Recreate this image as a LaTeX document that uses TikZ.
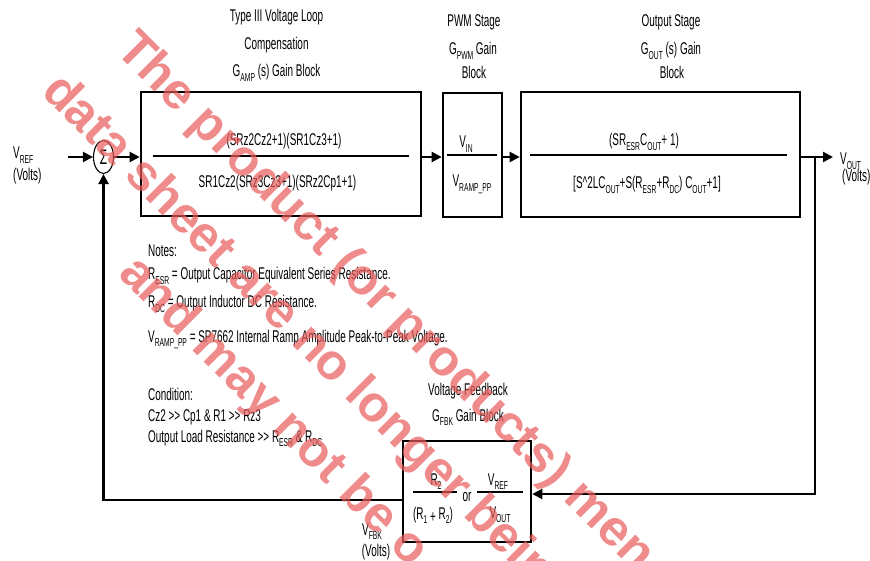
\documentclass[tikz,border=0pt]{standalone}
\usepackage{fontspec}
\setmainfont{Liberation Sans}[FakeStretch=0.585]
\newfontfamily\wmfont{Liberation Sans}
\usetikzlibrary{arrows.meta,shapes.geometric}
\definecolor{wmpink}{RGB}{232,90,90}
\newcommand{\sbx}[1]{\raisebox{-4.5pt}{\fontsize{11.5}{11.5}\selectfont #1}}
\begin{document}
\begin{tikzpicture}[x=1pt,y=-1pt,
  txt/.style={inner sep=0pt, font=\fontsize{17}{20}\selectfont, anchor=base},
  ltxt/.style={txt, anchor=base west},
  blk/.style={draw, line width=2.6pt, inner sep=0pt},
  con/.style={line width=2.2pt},
  arr/.style={con, -{Triangle[length=10pt,width=10pt]}},
  fr/.style={line width=2.2pt},
  wm/.style={inner sep=0pt, anchor=base west, rotate=-45, text=wmpink, text opacity=0.7,
    font=\wmfont\bfseries\fontsize{50.5}{50}\selectfont}]
\useasboundingbox (0,0) rectangle (870,561);
\clip (0,0) rectangle (870,561);
% blocks
\node[blk, minimum width=280pt, minimum height=124pt] (box1) at (281,154) {};
\node[blk, minimum width=59pt, minimum height=124pt] (pwm) at (472.5,155) {};
\node[blk, minimum width=279pt, minimum height=125pt] (out) at (660.5,154.5) {};
\node[blk, minimum width=128pt, minimum height=101pt] (fbk) at (467,491.5) {};
\node[draw, ellipse, minimum width=20pt, minimum height=33pt, inner sep=0pt, line width=1.1pt,
  font=\fontsize{21}{21}\selectfont] (sig) at (103.5,157) {Σ};
% fraction bars
\draw[fr] (153,156) -- (409,156);
\draw[fr] (447,155) -- (497,155);
\draw[fr] (530,155) -- (787,155);
\draw[fr] (413,492) -- (457,492);
\draw[fr] (477,492) -- (523,492);
% connectors
\coordinate (vin) at (68,157);
\coordinate (voutend) at (833,157);
\coordinate (br) at (815,157);
\coordinate (brd) at (815,494);
\coordinate (fl) at (103.5,500);
\draw[arr] (vin) -- (vin -| sig.west);
\draw[arr] (vin -| sig.east) -- (vin -| box1.west);
\draw[arr] (vin -| box1.east) -- (vin -| pwm.west);
\draw[arr] (vin -| pwm.east) -- (vin -| out.west);
\draw[arr] (vin -| out.east) -- (voutend);
\draw[arr] (br) -- (brd) -- (brd -| fbk.east);
\draw[arr] (fl -| fbk.west) -- (fl) -- (sig.south);
% labels
\node[ltxt] (vref) at (13,159) {V\sbx{REF}};
\node[ltxt] (vrefv) at (13,181) {(Volts)};
\node[ltxt] (vout) at (840,165) {V\sbx{OUT}};
\node[ltxt] (voutv) at (842,182) {(Volts)};
\node[txt] (t1a) at (276.5,22) {Type III Voltage Loop};
\node[txt] (t1b) at (276.5,50) {Compensation};
\node[txt] (t1c) at (276.5,77) {G\sbx{AMP} (s) Gain Block};
\node[txt] (n1) at (284,146) {(SRz2Cz2+1)(SR1Cz3+1)};
\node[txt] (d1) at (277.5,188) {SR1Cz2(SRz3Cz3+1)(SRz2Cp1+1)};
\node[txt] (t2a) at (474,27) {PWM Stage};
\node[txt] (t2b) at (473,55) {G\sbx{PWM} Gain};
\node[txt] (t2c) at (474,79) {Block};
\node[txt] (n2) at (466,148) {V\sbx{IN}};
\node[txt] (d2) at (472,187) {V\sbx{RAMP\_PP}};
\node[txt] (t3a) at (671,27) {Output Stage};
\node[txt] (t3b) at (671,55) {G\sbx{OUT} (s) Gain};
\node[txt] (t3c) at (672,79) {Block};
\node[txt] (n3) at (644,146) {(SR\sbx{ESR}C\sbx{OUT}+ 1)};
\node[txt] (d3) at (647,189) {[S\textasciicircum 2LC\sbx{OUT}+S(R\sbx{ESR}+R\sbx{DC}) C\sbx{OUT}+1]};
\node[txt] (t4a) at (468,395) {Voltage Feedback};
\node[txt] (t4b) at (468,421) {G\sbx{FBK} Gain Block};
\node[txt] (n4a) at (436,485) {R\sbx{2}};
\node[txt] (d4a) at (433,519) {(R\sbx{1}\,\raisebox{-3pt}{+}\,R\sbx{2})};
\node[txt] (or) at (467,501) {or};
\node[txt] (n4b) at (498,485) {V\sbx{REF}};
\node[txt] (d4b) at (500,518) {V\sbx{OUT}};
\node[txt] (vfbk) at (372,535) {V\sbx{FBK}};
\node[txt] (vfbkv) at (376,556) {(Volts)};
% notes
\node[ltxt] (no1) at (148,257) {Notes:};
\node[ltxt] (no2) at (148,280) {R\sbx{ESR} = Output Capacitor Equivalent Series Resistance.};
\node[ltxt] (no3) at (148,308) {R\sbx{DC} = Output Inductor DC Resistance.};
\node[ltxt] (no4) at (148,342) {V\sbx{RAMP\_PP} = SP7662 Internal Ramp Amplitude Peak-to-Peak Voltage.};
\node[ltxt] (no5) at (148,400) {Condition:};
\node[ltxt] (no6) at (148,421) {Cz2 >{}> Cp1 \& R1 >{}> Rz3};
\node[ltxt] (no7) at (148,442) {Output Load Resistance >{}> R\sbx{ESR} \& R\sbx{DC}};
% watermark
\node[wm] (wm1) at (114,51) {The product (or products) men};
\node[wm] (wm2) at (40,93) {data sheet are no longer bein};
\node[wm] (wm3) at (117,275) {and may not be o};
\end{tikzpicture}
\end{document}
